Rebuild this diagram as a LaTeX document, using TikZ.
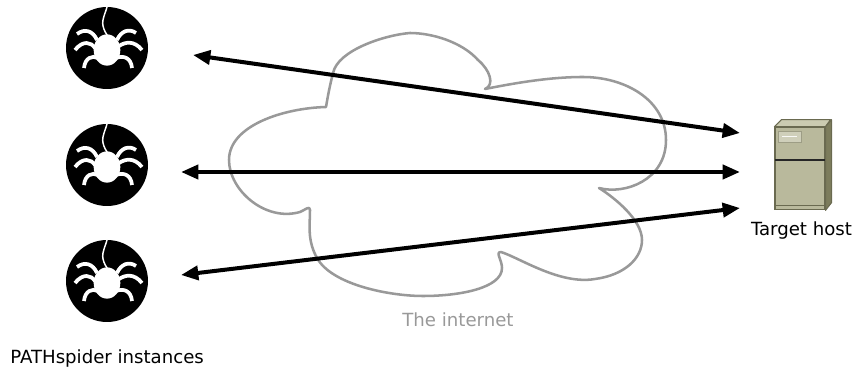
\documentclass[tikz,border=0pt]{standalone}
\usepackage{fontspec}
\setmainfont{DejaVu Sans}
\usepackage{xcolor}
\usetikzlibrary{arrows.meta, shapes.geometric}
\definecolor{cloudgray}{HTML}{999999}
\definecolor{hostfront}{HTML}{B9B99C}
\definecolor{hosttop}{HTML}{CBCBB1}
\definecolor{hostside}{HTML}{7C7C5C}
\definecolor{hostline}{HTML}{6A6A50}
\definecolor{hostpanel}{HTML}{CFCFBA}
\begin{document}
\begin{tikzpicture}[x=0.75pt, y=-0.75pt, >={Triangle[length=13pt,width=10.5pt]}]
      \tikzset{
        label/.style={inner sep=0pt, font=\fontsize{13.6pt}{15pt}\selectfont},
        link/.style={<->, line width=3pt, black},
        spider/.pic={
          \node[circle, fill=black, minimum size=61.5pt, inner sep=0pt] (-disc) at (0,0) {};
          \node[ellipse, fill=white, minimum width=20pt, minimum height=23.5pt, inner sep=0pt] (-body) at (0,2) {};
          \draw[white, line width=1.1pt] (-body.north) .. controls (2,-10) and (-6,-20) .. (-4,-28) .. controls (-3,-33) and (-1,-37) .. (0,-41);
          \draw[white, line width=2.8pt] (-30,-14) .. controls (-22,-20) and (-14,-17) .. (-10,-8);
          \draw[white, line width=2.8pt] (-32,2) .. controls (-24,-8) and (-16,-6) .. (-12,0);
          \draw[white, line width=2.8pt] (-23,20) .. controls (-22,10) and (-15,7) .. (-9,10);
          \draw[white, line width=2.8pt] (29,-15) .. controls (22,-20) and (14,-17) .. (10,-8);
          \draw[white, line width=2.8pt] (35,2) .. controls (27,-8) and (18,-6) .. (12,-2);
          \draw[white, line width=2.8pt] (25,20) .. controls (24,10) and (17,7) .. (9,10);
        }
      }
      \useasboundingbox (0,0) rectangle (854,370);
      % cloud
      \draw[cloudgray, line width=1.9pt, line join=round]
        (326,107) .. controls (285,108) and (229,125) .. (229,160)
        .. controls (229,190) and (265,222) .. (300,212)
        .. controls (305,210) and (310,205) .. (310,210)
        .. controls (310,225) and (307,240) .. (317,258)
        .. controls (332,285) and (390,296) .. (423,296)
        .. controls (460,296) and (502,288) .. (502,268)
        .. controls (502,260) and (495,252) .. (501,252)
        .. controls (520,258) and (560,285) .. (595,279)
        .. controls (625,275) and (642,258) .. (642,240)
        .. controls (642,220) and (615,198) .. (599,188)
        .. controls (625,195) and (666,180) .. (666,140)
        .. controls (666,100) and (625,77) .. (583,77)
        .. controls (550,77) and (515,83) .. (485,89)
        .. controls (495,85) and (490,70) .. (478,60)
        .. controls (462,42) and (432,33) .. (410,33)
        .. controls (385,35) and (338,50) .. (333,73)
        .. controls (330,85) and (328,95) .. (326,107) -- cycle;
      \node[label, text=cloudgray] (internet) at (458,320) {The internet};
      % spiders
      \pic (spiderA) at (107,48) {spider};
      \pic (spiderB) at (107,165) {spider};
      \pic (spiderC) at (107,281) {spider};
      \node[label, anchor=west] (instances) at (10,358.5) {PATHspider instances};
      % target host
      \node[rectangle, draw=hostline, fill=hostfront, line width=0.8pt, minimum width=37.5pt, minimum height=62pt, inner sep=0pt] (host) at (800,168.5) {};
      \fill[hosttop, draw=hostline, line width=0.8pt, line join=round] (host.north west) -- ++(7,-7) -- ++(49,0) -- (host.north east) -- cycle;
      \fill[hostside, draw=hostline, line width=0.8pt, line join=round] (host.north east) -- ++(6,-7) -- ++(0,83) -- (host.south east) -- cycle;
      \draw[black!85, line width=1pt] (775,160) -- (825,160);
      \draw[hostline, line width=0.6pt] (775,205) -- (825,205);
      \node[rectangle, draw=hostfront!85!black, fill=hostpanel, minimum width=17pt, minimum height=8pt, inner sep=0pt] (panel) at (789.5,136.5) {};
      \draw[white!90!hostfront, line width=0.5pt] ([xshift=3pt]panel.west) -- ([xshift=-3pt]panel.east);
      \node[label] (hostname) at (801.5,230.5) {Target host};
      % links
      \coordinate (fromA) at (193,55);
      \coordinate (fromB) at (181,172);
      \coordinate (fromC) at (181,275);
      \coordinate (toA) at (740,133);
      \coordinate (toB) at (740,172);
      \coordinate (toC) at (740,208);
      \draw[link] (fromA) -- (toA);
      \draw[link] (fromB) -- (toB);
      \draw[link] (fromC) -- (toC);
    \end{tikzpicture}
\end{document}
